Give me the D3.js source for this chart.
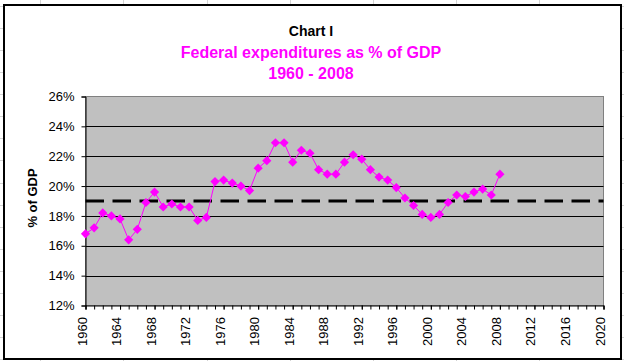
<!DOCTYPE html>
<html>
<head>
<meta charset="utf-8">
<script src="https://cdn.jsdelivr.net/npm/d3@7"></script>
<style>
  html, body { margin: 0; padding: 0; background: #fff; }
  svg { display: block; }
  text { font-family: "Liberation Sans", Arial, sans-serif; }
</style>
</head>
<body>
<svg id="chart" width="624" height="361"></svg>
<script>
// ---- data ----
const years = [1960,1961,1962,1963,1964,1965,1966,1967,1968,1969,
               1970,1971,1972,1973,1974,1975,1976,1977,1978,1979,
               1980,1981,1982,1983,1984,1985,1986,1987,1988,1989,
               1990,1991,1992,1993,1994,1995,1996,1997,1998,1999,
               2000,2001,2002,2003,2004,2005,2006,2007,2008];
const outlays = [16.8,17.2,18.2,18.0,17.8,16.4,17.1,18.9,19.6,18.6,
                 18.8,18.6,18.6,17.7,17.9,20.3,20.4,20.2,20.0,19.7,
                 21.2,21.7,22.9,22.9,21.6,22.4,22.2,21.1,20.8,20.8,
                 21.6,22.1,21.8,21.1,20.6,20.4,19.9,19.2,18.7,18.1,
                 17.9,18.1,18.9,19.4,19.3,19.6,19.8,19.4,20.8];
const averageYears = [1960, 2020];
const averageValues = [19.0, 19.0];
const xMajorTicks = [1960,1964,1968,1972,1976,1980,1984,1988,1992,1996,2000,2004,2008,2012,2016,2020];
const yTicks = [12,14,16,18,20,22,24,26];
const titleLines = ["Chart I", "Federal expenditures as % of GDP", "1960 - 2008"];
const yAxisTitle = "% of GDP";

// ---- layout ----
const svg = d3.select("#chart");
const W = 624, H = 361;
const plot = {left: 85.5, right: 603.5, top: 96.5, bottom: 305.5};

// spreadsheet grid behind the chart object
const sheetCols = [40, 123, 206.5, 290, 373, 456, 539];
const sheetRows = d3.range(-1, 16).map(k => 28 + 22.08 * k);
const sheet = svg.append("g").attr("stroke", "#d4d4d4").attr("stroke-width", 1);
sheetCols.forEach(x => sheet.append("line").attr("x1", Math.round(x)+0.5).attr("x2", Math.round(x)+0.5).attr("y1", 0).attr("y2", H));
sheetRows.forEach(y => sheet.append("line").attr("x1", 0).attr("x2", W).attr("y1", Math.round(y)+0.5).attr("y2", Math.round(y)+0.5));

// chart area
svg.append("rect").attr("x", 4).attr("y", 5).attr("width", 617).attr("height", 354)
  .attr("fill", "#fff").attr("stroke", "#000").attr("stroke-width", 2);

const x = d3.scaleLinear().domain([1960, 2020]).range([plot.left, plot.right]);
const y = d3.scaleLinear().domain([12, 26]).range([plot.bottom, plot.top]);

// plot area
svg.append("rect").attr("x", plot.left).attr("y", plot.top)
  .attr("width", plot.right - plot.left).attr("height", plot.bottom - plot.top)
  .attr("fill", "#c0c0c0").attr("stroke", "#808080").attr("stroke-width", 1);

// horizontal gridlines
svg.append("g").selectAll("line").data(yTicks.slice(1, -1)).join("line")
  .attr("x1", plot.left).attr("x2", plot.right)
  .attr("y1", d => Math.round(y(d)) + 0.5).attr("y2", d => Math.round(y(d)) + 0.5)
  .attr("stroke", "#000").attr("stroke-width", 1);

// y axis
const yAxis = svg.append("g").attr("transform", `translate(${plot.left},0)`)
  .call(d3.axisLeft(y).tickValues(yTicks).tickSize(4).tickPadding(7).tickFormat(d => d + "%"));
yAxis.select(".domain").attr("stroke", "#000");
yAxis.selectAll("line").attr("stroke", "#000");
yAxis.selectAll("text").attr("font-size", 13).attr("fill", "#000")
  .style("font-family", '"Liberation Sans", Arial, sans-serif');

// x axis minor ticks
const xMinor = svg.append("g").attr("transform", `translate(0,${plot.bottom})`)
  .call(d3.axisBottom(x).tickValues(d3.range(1960, 2021)).tickSize(4).tickFormat(""));
xMinor.selectAll("line").attr("stroke", "#000");
xMinor.select(".domain").remove();

// x axis major
const xAxis = svg.append("g").attr("transform", `translate(0,${plot.bottom})`)
  .call(d3.axisBottom(x).tickValues(xMajorTicks).tickSize(4).tickFormat(d3.format("d")));
xAxis.select(".domain").attr("stroke", "#000");
xAxis.selectAll("line").attr("stroke", "#000");
xAxis.selectAll("text")
  .attr("font-size", 13).attr("fill", "#000")
  .style("font-family", '"Liberation Sans", Arial, sans-serif')
  .attr("text-anchor", "end")
  .attr("dy", null).attr("y", null)
  .attr("transform", "translate(0.5,11.5) rotate(-90)");

// average dashed line
const avgData = averageYears.map((yr, i) => ({yr, v: averageValues[i]}));
svg.append("path").datum(avgData)
  .attr("d", d3.line().x(d => x(d.yr)).y(d => y(d.v)))
  .attr("stroke", "#000").attr("stroke-width", 3)
  .attr("stroke-dasharray", "18.5,8.5").attr("fill", "none");

// series
const series = years.map((yr, i) => ({yr, v: outlays[i]}));
svg.append("path").datum(series)
  .attr("d", d3.line().x(d => x(d.yr)).y(d => y(d.v)))
  .attr("stroke", "#ff00ff").attr("stroke-width", 1).attr("fill", "none");
const diamond = d3.symbol().type(d3.symbolSquare).size(42);
svg.append("g").selectAll("path").data(series).join("path")
  .attr("d", diamond())
  .attr("transform", d => `translate(${x(d.yr)},${y(d.v)}) rotate(45)`)
  .attr("fill", "#ff00ff");

// titles
const cx = 311;
svg.append("text").attr("x", cx).attr("y", 35.5).attr("text-anchor", "middle")
  .attr("font-size", 14).attr("font-weight", "bold").attr("fill", "#000").text(titleLines[0]);
svg.append("text").attr("x", cx).attr("y", 58).attr("text-anchor", "middle")
  .attr("font-size", 16).attr("font-weight", "bold").attr("fill", "#ff00ff").text(titleLines[1]);
svg.append("text").attr("x", cx).attr("y", 79).attr("text-anchor", "middle")
  .attr("font-size", 16).attr("font-weight", "bold").attr("fill", "#ff00ff").text(titleLines[2]);

// y axis title
svg.append("text").attr("transform", `translate(36.5,198) rotate(-90)`)
  .attr("text-anchor", "middle").attr("font-size", 13).attr("font-weight", "bold")
  .attr("fill", "#000").text(yAxisTitle);
</script>
</body>
</html>
